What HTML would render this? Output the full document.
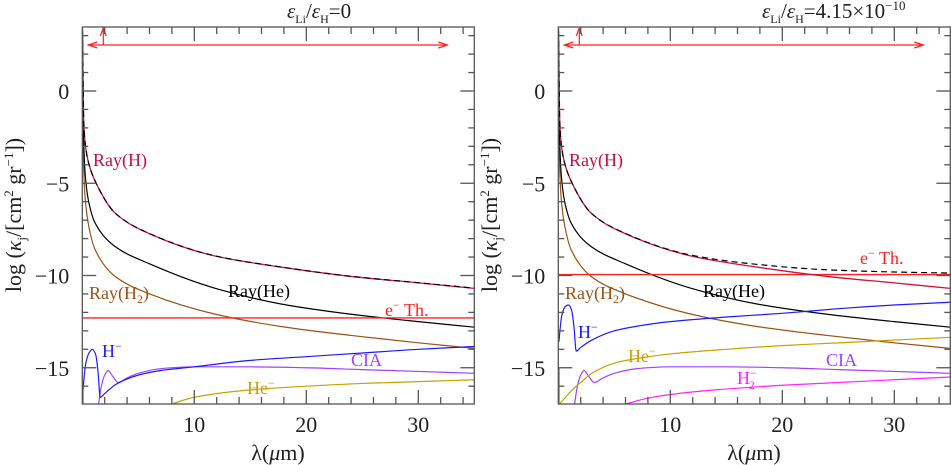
<!DOCTYPE html>
<html><head><meta charset="utf-8"><style>
html,body{margin:0;padding:0;background:#fff;}
svg{display:block;font-family:"Liberation Serif",serif;}
</style></head>
<body>
<svg id="chart" width="951" height="465" viewBox="0 0 951 465" xmlns="http://www.w3.org/2000/svg"></svg>
<script>
// ---- data (log kappa vs wavelength in micron) ----
const lamRay = [0.01,0.12,0.27,0.57,1.16,2.95,5.9,11.9,17.8,24,30,35];
const rayH   = [3.5,-1.5,-2.9,-3.92,-4.9,-6.63,-7.71,-8.95,-9.55,-10.05,-10.4,-10.7];
const rayHe  = [3.5,-2.6,-4.6,-6.0,-7.17,-8.44,-9.34,-10.7,-11.55,-12.1,-12.5,-12.8];
const rayH2  = [3.5,-4.1,-5.9,-7.3,-8.62,-10.06,-10.97,-12.1,-12.77,-13.25,-13.65,-13.95];
const lamHm  = [0.05,0.3,0.6,0.9,1.2,1.4,1.6,2,3,5,7,10,15,20,25,30,35];
const hmLeft = [-16.2,-14.8,-14.2,-14.0,-14.3,-15.2,-16.6,-16.4,-15.9,-15.4,-15.15,-14.95,-14.6,-14.4,-14.2,-14.0,-13.85];
const hmRight= [-13.6,-12.2,-11.7,-11.6,-11.9,-12.8,-14.1,-13.9,-13.5,-13.0,-12.75,-12.5,-12.25,-12.05,-11.8,-11.6,-11.45];
const lamCIA = [1.4,1.7,2.0,2.3,2.7,3.2,4,5,7,10,15,20,25,30,35];
const cia    = [-17.2,-16.0,-15.4,-15.15,-15.45,-15.8,-15.55,-15.3,-15.05,-14.95,-14.95,-15.0,-15.1,-15.2,-15.3];
const lamHeL = [7.8,10,15,20,25,30,35];
const heLeft = [-17,-16.6,-16.2,-16.0,-15.85,-15.75,-15.65];
const lamHeR = [0.05,0.5,1,1.5,2,3,5,7,10,15,20,25,30,35];
const heRight= [-17,-16.7,-16.35,-16.05,-15.8,-15.3,-14.75,-14.5,-14.25,-14.0,-13.8,-13.65,-13.5,-13.35];
const lamH2m = [5.8,8,10,14,20,25,30,35];
const h2mRight=[-17,-16.65,-16.45,-16.2,-15.95,-15.8,-15.65,-15.5];
const eThLeft = -12.3;
const eThRight = -9.95;
const xTicks = [10,20,30];
const yTicks = [0,-5,-10,-15];
const yTickLabels = ["0","\u22125","\u221210","\u221215"];

const svg = document.getElementById('chart');
const NS = 'http://www.w3.org/2000/svg';
function mk(tag, attrs, parent){
  const e = document.createElementNS(NS, tag);
  for (const k in attrs) e.setAttribute(k, attrs[k]);
  (parent||svg).appendChild(e);
  return e;
}
const XMIN=0, XMAX=35, YMIN=-17, YMAX=3.47;
const TOP=27, BOT=404, PXX=11.2;
function interp(xs, ys, x){
  if (x<=xs[0]) return ys[0];
  for (let i=1;i<xs.length;i++) if (x<=xs[i]){const t=(x-xs[i-1])/(xs[i]-xs[i-1]);return ys[i-1]+t*(ys[i]-ys[i-1]);}
  return ys[ys.length-1];
}
function monoPath(pts){
  const n=pts.length;
  if (n<2) return '';
  const dx=[],m=[];
  for(let i=0;i<n-1;i++){dx.push(pts[i+1][0]-pts[i][0]);m.push((pts[i+1][1]-pts[i][1])/(dx[i]||1e-9));}
  const t=new Array(n);
  t[0]=m[0]; t[n-1]=m[n-2];
  for(let i=1;i<n-1;i++){
    if(m[i-1]*m[i]<=0) t[i]=0;
    else { const w1=2*dx[i]+dx[i-1], w2=dx[i]+2*dx[i-1]; t[i]=(w1+w2)/(w1/m[i-1]+w2/m[i]); }
  }
  let d='M'+pts[0][0].toFixed(2)+','+pts[0][1].toFixed(2);
  for(let i=0;i<n-1;i++){
    const h=dx[i]/3;
    d+=' C'+(pts[i][0]+h).toFixed(2)+','+(pts[i][1]+h*t[i]).toFixed(2)+' '+(pts[i+1][0]-h).toFixed(2)+','+(pts[i+1][1]-h*t[i+1]).toFixed(2)+' '+pts[i+1][0].toFixed(2)+','+pts[i+1][1].toFixed(2);
  }
  return d;
}

function panel(id, x0, o){
  const xs = v => x0 + v*PXX;
  const ys = v => 91 - v*18.45;
  const right = xs(XMAX);
  const g = mk('g',{});
  
  
  const cp = mk('clipPath',{id:id+'-clip'},g);
  mk('rect',{x:x0,y:TOP,width:right-x0,height:BOT-TOP},cp);
  const plot = mk('g',{'clip-path':'url(#'+id+'-clip)'},g);
  
  
  function line(name, lx, ly, color, w, dash){
    const p = mk('path',{d:monoPath(lx.map((l,i)=>[xs(l),ys(ly[i])])),fill:'none',stroke:color,'stroke-width':w||1.2},plot);
    if (dash) p.setAttribute('stroke-dasharray', dash);
    
    
    return p;
  }
  const gr = mk('line',{x1:xs(0.05),x2:xs(0.05),y1:ys(o.green),y2:ys(YMIN),stroke:'#2a8a2a','stroke-width':1.5},plot);
  
  
  line('ray-h2-line', lamRay, rayH2, '#9a5212');
  line('ray-he-line', lamRay, rayHe, '#000');
  line('cia-line', lamCIA, cia, '#a040ff');
  line('h-minus-line', lamHm, o.hm, '#1a1aff');
  line('he-minus-line', o.lamHe, o.he, '#c8a000');
  if (o.h2m) line('h2-minus-line', lamH2m, o.h2m, '#ff20ff');
  const et = mk('line',{x1:x0,x2:right,y1:ys(o.eth),y2:ys(o.eth),stroke:'#ff2020','stroke-width':1.3},plot);
  
  
  line('ray-h-line', lamRay, rayH, '#d01040', 1.3);
  const tot = lamRay.map(l=>Math.log10(Math.pow(10,interp(lamRay,rayH,l))+Math.pow(10,interp(lamRay,rayHe,l))+Math.pow(10,o.eth)+Math.pow(10,interp(lamHm,o.hm,l))));
  line('total-dashed-line', lamRay, tot, '#000', 1.2, '6,4');
  const ar = mk('g',{stroke:'#ff2020','stroke-width':1.2,fill:'none'},g);
  
  
  const ay=45, ax1=x0+6, ax2=x0+365, vx=x0+21;
  mk('line',{x1:ax1,x2:ax2,y1:ay,y2:ay},ar);
  mk('path',{d:`M${ax1+9},${ay-3} L${ax1},${ay} L${ax1+9},${ay+3}`},ar);
  mk('path',{d:`M${ax2-9},${ay-3} L${ax2},${ay} L${ax2-9},${ay+3}`},ar);
  mk('line',{x1:vx,x2:vx,y1:ay,y2:TOP+1},ar);
  mk('path',{d:`M${vx-3},${TOP+9} L${vx},${TOP+1} L${vx+3},${TOP+9}`},ar);
  const ax = mk('g',{stroke:'#555','stroke-width':1.3,fill:'none'},g);
  
  
  mk('rect',{x:x0,y:TOP,width:right-x0,height:BOT-TOP},ax);
  for (let v=2; v<XMAX; v+=2){
    const L = v%10===0?14:7, X=xs(v);
    mk('line',{x1:X,x2:X,y1:BOT,y2:BOT-L},ax);
    mk('line',{x1:X,x2:X,y1:TOP,y2:TOP+L},ax);
  }
  for (let v=-16; v<=3; v++){
    const L = v%5===0?14:6, Y=ys(v);
    mk('line',{x1:x0,x2:x0+L,y1:Y,y2:Y},ax);
    mk('line',{x1:right,x2:right-L,y1:Y,y2:Y},ax);
  }
  const tl = mk('g',{fill:'#222','font-size':'22px'},g);
  xTicks.forEach(v=>{
    const t=mk('text',{x:xs(v),y:432,'text-anchor':'middle'},tl); t.textContent=v;
    
    
  });
  yTicks.forEach((v,i)=>{
    const t=mk('text',{x:x0-13,y:ys(v)+8,'text-anchor':'end'},tl); t.textContent=yTickLabels[i];
    
    
  });
}
panel('left-panel', 82.3, {hm:hmLeft, lamHe:lamHeL, he:heLeft, eth:eThLeft, green:-16});
panel('right-panel', 558.3, {hm:hmRight, lamHe:lamHeR, he:heRight, h2m:h2mRight, eth:eThRight, green:-15});
</script>
<svg style="position:absolute;left:0;top:0" width="951" height="465" font-family="Liberation Serif, serif">
  <g font-size="22" fill="#222">
    <text x="278" y="460" text-anchor="middle">λ(<tspan font-style="italic">μ</tspan>m)</text>
    <text x="754" y="460" text-anchor="middle">λ(<tspan font-style="italic">μ</tspan>m)</text>
    <text transform="translate(21,215) rotate(-90)" text-anchor="middle">log (<tspan font-style="italic">κ</tspan><tspan font-size="13" dy="5">j</tspan><tspan dy="-5">/[cm</tspan><tspan font-size="13" dy="-8">2</tspan><tspan dy="8"> gr</tspan><tspan font-size="13" dy="-8">−1</tspan><tspan dy="8">])</tspan></text>
    <text transform="translate(497,215) rotate(-90)" text-anchor="middle">log (<tspan font-style="italic">κ</tspan><tspan font-size="13" dy="5">j</tspan><tspan dy="-5">/[cm</tspan><tspan font-size="13" dy="-8">2</tspan><tspan dy="8"> gr</tspan><tspan font-size="13" dy="-8">−1</tspan><tspan dy="8">])</tspan></text>
    <text x="287" y="18" font-size="21"><tspan font-style="italic">ε</tspan><tspan font-size="12" dy="5">Li</tspan><tspan dy="-5">/</tspan><tspan font-style="italic">ε</tspan><tspan font-size="12" dy="5">H</tspan><tspan dy="-5">=0</tspan></text>
    <text x="762" y="18" font-size="21"><tspan font-style="italic">ε</tspan><tspan font-size="12" dy="5">Li</tspan><tspan dy="-5">/</tspan><tspan font-style="italic">ε</tspan><tspan font-size="12" dy="5">H</tspan><tspan dy="-5">=4.15×10</tspan><tspan font-size="13" dy="-8">−10</tspan></text>
  </g>
  <g font-size="18">
    <text x="93" y="166" fill="#c01040">Ray(H)</text>
    <text x="89" y="299" fill="#9a5212">Ray(H<tspan font-size="12" dy="4">2</tspan><tspan dy="-4">)</tspan></text>
    <text x="228" y="297" fill="#000">Ray(He)</text>
    <text x="385" y="316" fill="#ff2020">e<tspan font-size="12" dy="-7">−</tspan><tspan dy="7"> Th.</tspan></text>
    <text x="102" y="357" fill="#1a1aff">H<tspan font-size="12" dy="-7">−</tspan></text>
    <text x="351" y="366" fill="#a040ff">CIA</text>
    <text x="247" y="394" fill="#c8a000">He<tspan font-size="12" dy="-7">−</tspan></text>
    <text x="569" y="166" fill="#c01040">Ray(H)</text>
    <text x="565" y="299" fill="#9a5212">Ray(H<tspan font-size="12" dy="4">2</tspan><tspan dy="-4">)</tspan></text>
    <text x="703" y="297" fill="#000">Ray(He)</text>
    <text x="860" y="264" fill="#ff2020">e<tspan font-size="12" dy="-7">−</tspan><tspan dy="7"> Th.</tspan></text>
    <text x="578" y="338" fill="#1a1aff">H<tspan font-size="12" dy="-7">−</tspan></text>
    <text x="628" y="362" fill="#c8a000">He<tspan font-size="12" dy="-7">−</tspan></text>
    <text x="826" y="366" fill="#a040ff">CIA</text>
    <text x="737" y="384" fill="#ff20ff">H<tspan font-size="12" dy="-7">−</tspan><tspan font-size="12" dx="-8" dy="12">2</tspan></text>
  </g>
</svg>
</body></html>
